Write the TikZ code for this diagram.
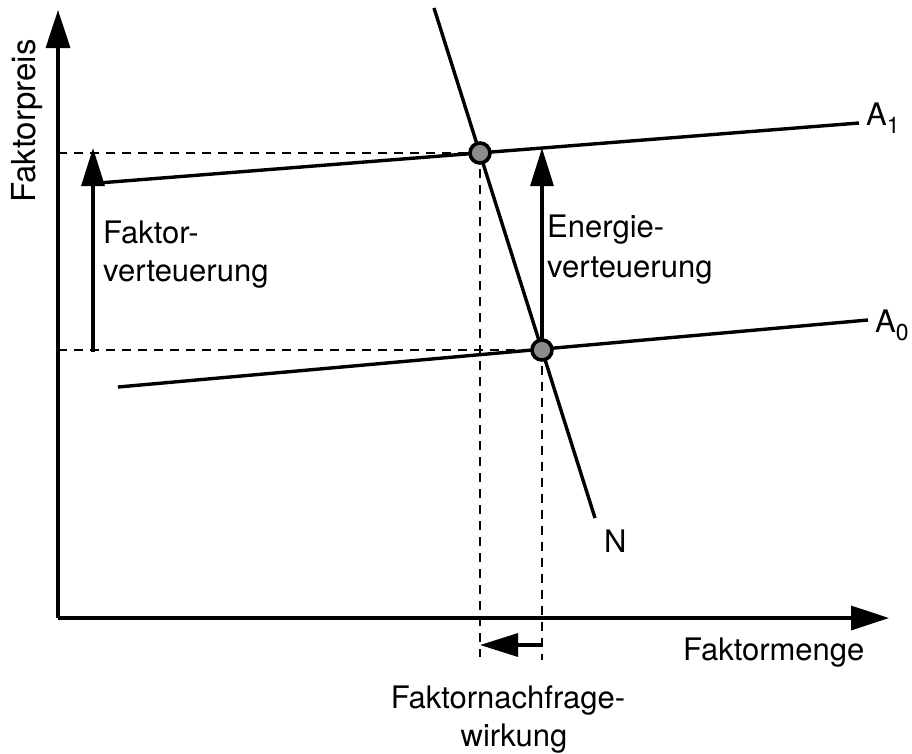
\documentclass[tikz,border=0pt]{standalone}
\usepackage{fontspec}
\setmainfont{TeX Gyre Heros}
\usetikzlibrary{arrows.meta}
% lowered index digit for curve names
\newcommand\curveidx[1]{\raisebox{-8pt}{\fontsize{23}{23}\selectfont #1}}
\begin{document}
\begin{tikzpicture}[x=1pt,y=-1pt,
  curve/.style={line width=3.4pt},
  axis/.style={line width=3.4pt,-{Triangle[length=38pt,width=24pt]}},
  shiftarrow/.style={line width=3.2pt,-{Triangle[length=38pt,width=23pt]}},
  guide/.style={line width=1.2pt,dash pattern=on 9pt off 7pt},
  point/.style={circle,draw,line width=3.6pt,fill=black!45,minimum size=20pt,inner sep=0pt},
  lbl/.style={font=\fontsize{31}{38}\selectfont,inner sep=0pt},
]
\useasboundingbox (0,0) rectangle (912,753);

% axes
\coordinate (O) at (58,618);
\coordinate (ytip) at (58,10);
\coordinate (xtip) at (889,618);
% supply curves A0, A1 and demand curve N
\coordinate (a1s) at (82,184.3);
\coordinate (a1e) at (859,123);
\coordinate (a0s) at (118,387);
\coordinate (a0e) at (868,320);
\coordinate (ns) at (434,8);
\coordinate (ne) at (595,518);
% equilibria
\coordinate (p1) at (480,153);
\coordinate (p0) at (542,350);
% shift arrows
\coordinate (f0) at (93,352);
\coordinate (f1) at (93,148);
\coordinate (b1) at (542,645);
\coordinate (g1) at (480,657);
\coordinate (g0) at (542,660);

\draw[axis] (O) -- (ytip);
\draw[axis] (O) -- (xtip);

\draw[guide] (O |- p1) -- (p1);
\draw[guide] (O |- p0) -- (p0);
\draw[guide] (p1) -- (g1);
\draw[guide] (p0) -- (g0);

\draw[curve] (a1s) -- (a1e);
\draw[curve] (a0s) -- (a0e);
\draw[curve] (ns) -- (ne);

\draw[shiftarrow] (f0) -- (f1);
\draw[shiftarrow] (p0) -- (p0 |- f1);
\draw[shiftarrow] (b1) -- (p1 |- b1);

\node[point] (e1) at (p1) {};
\node[point] (e0) at (p0) {};

\node[lbl,anchor=base west] (t1) at (103,243) {Faktor-};
\node[lbl,anchor=base west] (t2) at (103,281) {verteuerung};
\node[lbl,anchor=base west] (t3) at (547,237) {Energie-};
\node[lbl,anchor=base west] (t4) at (547,277) {verteuerung};
\node[lbl,anchor=base] (t5) at (508,708) {Faktornachfrage-};
\node[lbl,anchor=base] (t6) at (514,746) {wirkung};
\node[lbl,anchor=base west] (xl) at (683,660) {Faktormenge};
\node[lbl,font=\fontsize{33}{38}\selectfont,anchor=base west,rotate=90] (yl) at (35,203) {Faktorpreis};
\node[lbl,anchor=base west] (l1) at (866,125) {A\curveidx{1}};
\node[lbl,anchor=base west] (l0) at (875,332) {A\curveidx{0}};
\node[lbl,anchor=base west] (ln) at (604,552) {N};
\end{tikzpicture}
\end{document}
